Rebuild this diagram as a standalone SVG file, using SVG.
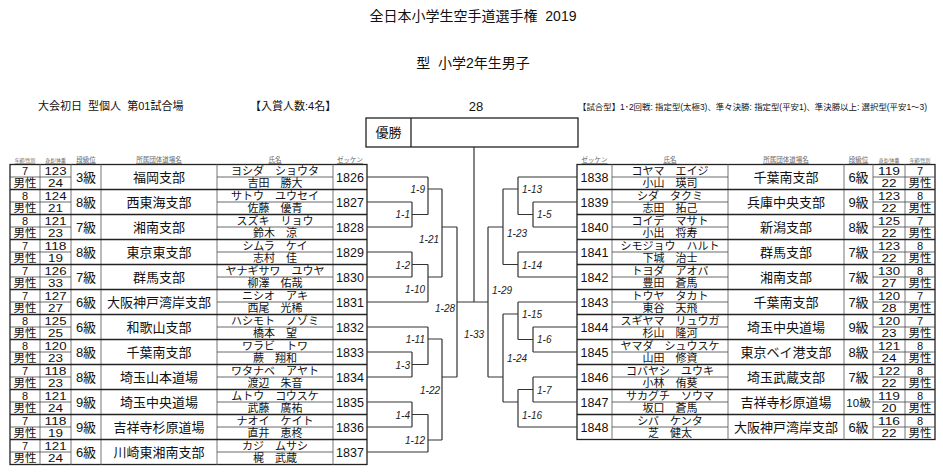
<svg xmlns="http://www.w3.org/2000/svg" width="943" height="472" viewBox="0 0 943 472">
<style>
text{font-family:"Liberation Sans","Noto Sans CJK JP",sans-serif;fill:#111}
.m{text-anchor:middle}
.a{font-size:11px}
.s{font-size:11.5px}
.h{font-size:11.5px}
.g{font-size:13px}
.d{font-size:13px}
.k{font-size:11px}
.z{font-size:12.5px}
.hd{font-size:6.5px;fill:#666;text-decoration:underline;text-anchor:middle}
.hs{font-size:4.8px;fill:#666;text-decoration:underline;text-anchor:middle}
.lb{font-size:10px;font-style:italic;fill:#222}
.e{text-anchor:end}
.br{fill:none;stroke:#333;stroke-width:1.2}
.bo{fill:none;stroke:#222;stroke-width:1.3}
.cl{fill:none;stroke:#777;stroke-width:1}
.sr{fill:none;stroke:#444;stroke-width:0.8}
</style>
<rect width="943" height="472" fill="#fff"/>
<g id="title">
<text class="m" x="473" y="21" font-size="14" xml:space="preserve">全日本小学生空手道選手権  2019</text>
<text class="m" x="473" y="68" font-size="14" xml:space="preserve">型  小学2年生男子</text>
<text x="38" y="110" font-size="11" xml:space="preserve">大会初日  型個人  第01試合場</text>
<text x="250" y="110" font-size="11">【入賞人数:4名】</text>
<text class="m" x="476" y="111" font-size="13">28</text>
<text x="578" y="109.5" font-size="8.5" textLength="349" lengthAdjust="spacingAndGlyphs">【試合型】1･2回戦: 指定型(太極3)、準々決勝: 指定型(平安1)、準決勝以上: 選択型(平安1～3)</text>
</g>
<g id="champion">
<rect x="366" y="118" width="212" height="29" class="bo"/>
<path d="M411,118V147" class="bo"/>
<text class="m" x="388.5" y="137" font-size="13">優勝</text>
</g>
<g id="headers">
<text class="hs" x="25" y="162">年齢/性別</text>
<text class="hs" x="55.5" y="162">身長/体重</text>
<text class="hd" x="86" y="162">段級位</text>
<text class="hd" x="159" y="162">所属団体道場名</text>
<text class="hd" x="275" y="162">氏名</text>
<text class="hd" x="350" y="162">ゼッケン</text>
<text class="hd" x="594.5" y="162">ゼッケン</text>
<text class="hd" x="670" y="162">氏名</text>
<text class="hd" x="786" y="162">所属団体道場名</text>
<text class="hd" x="858.5" y="162">段級位</text>
<text class="hs" x="889" y="162">身長/体重</text>
<text class="hs" x="920" y="162">年齢/性別</text>
</g>
<g id="grid-left">
<rect x="10" y="164.5" width="357" height="300" class="bo"/>
<path class="cl" d="M40,164.5V464.5M71,164.5V464.5M101,164.5V464.5M217,164.5V464.5M333,164.5V464.5"/>
<path class="bo" d="M10,189.5H367M10,214.5H367M10,239.5H367M10,264.5H367M10,289.5H367M10,314.5H367M10,339.5H367M10,364.5H367M10,389.5H367M10,414.5H367M10,439.5H367"/>
<path class="sr" d="M10,177H71M217,177H333M10,202H71M217,202H333M10,227H71M217,227H333M10,252H71M217,252H333M10,277H71M217,277H333M10,302H71M217,302H333M10,327H71M217,327H333M10,352H71M217,352H333M10,377H71M217,377H333M10,402H71M217,402H333M10,427H71M217,427H333M10,452H71M217,452H333"/>
</g>
<g id="grid-right">
<rect x="577" y="164.5" width="358" height="275" class="bo"/>
<path class="cl" d="M612,164.5V439.5M728,164.5V439.5M844,164.5V439.5M873,164.5V439.5M905,164.5V439.5"/>
<path class="bo" d="M577,189.5H935M577,214.5H935M577,239.5H935M577,264.5H935M577,289.5H935M577,314.5H935M577,339.5H935M577,364.5H935M577,389.5H935M577,414.5H935"/>
<path class="sr" d="M612,177H728M873,177H935M612,202H728M873,202H935M612,227H728M873,227H935M612,252H728M873,252H935M612,277H728M873,277H935M612,302H728M873,302H935M612,327H728M873,327H935M612,352H728M873,352H935M612,377H728M873,377H935M612,402H728M873,402H935M612,427H728M873,427H935"/>
</g>
<g id="p1826" transform="translate(0,164.5)"><text class="m a" x="25" y="10.3">7</text><text class="m s" x="25" y="22.9">男性</text><text class="m h" x="55.5" y="10.4" textLength="22" lengthAdjust="spacingAndGlyphs">123</text><text class="m h" x="55.5" y="22.9" textLength="15" lengthAdjust="spacingAndGlyphs">24</text><text class="m g" x="86" y="17.3">3級</text><text class="m d" x="159" y="17.3">福岡支部</text><text class="m k" x="275" y="10.3">ヨシダ　ショウタ</text><text class="m k" x="275" y="22.8">吉田　勝大</text><text class="m z" x="350" y="17">1826</text></g>
<g id="p1827" transform="translate(0,189.5)"><text class="m a" x="25" y="10.3">8</text><text class="m s" x="25" y="22.9">男性</text><text class="m h" x="55.5" y="10.4" textLength="22" lengthAdjust="spacingAndGlyphs">124</text><text class="m h" x="55.5" y="22.9" textLength="15" lengthAdjust="spacingAndGlyphs">21</text><text class="m g" x="86" y="17.3">8級</text><text class="m d" x="159" y="17.3">西東海支部</text><text class="m k" x="275" y="10.3">サトウ　ユウセイ</text><text class="m k" x="275" y="22.8">佐藤　優青</text><text class="m z" x="350" y="17">1827</text></g>
<g id="p1828" transform="translate(0,214.5)"><text class="m a" x="25" y="10.3">8</text><text class="m s" x="25" y="22.9">男性</text><text class="m h" x="55.5" y="10.4" textLength="22" lengthAdjust="spacingAndGlyphs">121</text><text class="m h" x="55.5" y="22.9" textLength="15" lengthAdjust="spacingAndGlyphs">23</text><text class="m g" x="86" y="17.3">7級</text><text class="m d" x="159" y="17.3">湘南支部</text><text class="m k" x="275" y="10.3">スズキ　リョウ</text><text class="m k" x="275" y="22.8">鈴木　涼</text><text class="m z" x="350" y="17">1828</text></g>
<g id="p1829" transform="translate(0,239.5)"><text class="m a" x="25" y="10.3">7</text><text class="m s" x="25" y="22.9">男性</text><text class="m h" x="55.5" y="10.4" textLength="22" lengthAdjust="spacingAndGlyphs">118</text><text class="m h" x="55.5" y="22.9" textLength="15" lengthAdjust="spacingAndGlyphs">19</text><text class="m g" x="86" y="17.3">8級</text><text class="m d" x="159" y="17.3">東京東支部</text><text class="m k" x="275" y="10.3">シムラ　ケイ</text><text class="m k" x="275" y="22.8">志村　佳</text><text class="m z" x="350" y="17">1829</text></g>
<g id="p1830" transform="translate(0,264.5)"><text class="m a" x="25" y="10.3">7</text><text class="m s" x="25" y="22.9">男性</text><text class="m h" x="55.5" y="10.4" textLength="22" lengthAdjust="spacingAndGlyphs">126</text><text class="m h" x="55.5" y="22.9" textLength="15" lengthAdjust="spacingAndGlyphs">33</text><text class="m g" x="86" y="17.3">7級</text><text class="m d" x="159" y="17.3">群馬支部</text><text class="m k" x="275" y="10.3">ヤナギサワ　ユウヤ</text><text class="m k" x="275" y="22.8">柳澤　佑哉</text><text class="m z" x="350" y="17">1830</text></g>
<g id="p1831" transform="translate(0,289.5)"><text class="m a" x="25" y="10.3">7</text><text class="m s" x="25" y="22.9">男性</text><text class="m h" x="55.5" y="10.4" textLength="22" lengthAdjust="spacingAndGlyphs">127</text><text class="m h" x="55.5" y="22.9" textLength="15" lengthAdjust="spacingAndGlyphs">27</text><text class="m g" x="86" y="17.3">6級</text><text class="m d" x="159" y="17.3">大阪神戸湾岸支部</text><text class="m k" x="275" y="10.3">ニシオ　アキ</text><text class="m k" x="275" y="22.8">西尾　光稀</text><text class="m z" x="350" y="17">1831</text></g>
<g id="p1832" transform="translate(0,314.5)"><text class="m a" x="25" y="10.3">8</text><text class="m s" x="25" y="22.9">男性</text><text class="m h" x="55.5" y="10.4" textLength="22" lengthAdjust="spacingAndGlyphs">125</text><text class="m h" x="55.5" y="22.9" textLength="15" lengthAdjust="spacingAndGlyphs">25</text><text class="m g" x="86" y="17.3">6級</text><text class="m d" x="159" y="17.3">和歌山支部</text><text class="m k" x="275" y="10.3">ハシモト　ノゾミ</text><text class="m k" x="275" y="22.8">橋本　望</text><text class="m z" x="350" y="17">1832</text></g>
<g id="p1833" transform="translate(0,339.5)"><text class="m a" x="25" y="10.3">8</text><text class="m s" x="25" y="22.9">男性</text><text class="m h" x="55.5" y="10.4" textLength="22" lengthAdjust="spacingAndGlyphs">120</text><text class="m h" x="55.5" y="22.9" textLength="15" lengthAdjust="spacingAndGlyphs">23</text><text class="m g" x="86" y="17.3">8級</text><text class="m d" x="159" y="17.3">千葉南支部</text><text class="m k" x="275" y="10.3">ワラビ　トワ</text><text class="m k" x="275" y="22.8">蕨　翔和</text><text class="m z" x="350" y="17">1833</text></g>
<g id="p1834" transform="translate(0,364.5)"><text class="m a" x="25" y="10.3">7</text><text class="m s" x="25" y="22.9">男性</text><text class="m h" x="55.5" y="10.4" textLength="22" lengthAdjust="spacingAndGlyphs">118</text><text class="m h" x="55.5" y="22.9" textLength="15" lengthAdjust="spacingAndGlyphs">23</text><text class="m g" x="86" y="17.3">8級</text><text class="m d" x="159" y="17.3">埼玉山本道場</text><text class="m k" x="275" y="10.3">ワタナベ　アヤト</text><text class="m k" x="275" y="22.8">渡辺　朱音</text><text class="m z" x="350" y="17">1834</text></g>
<g id="p1835" transform="translate(0,389.5)"><text class="m a" x="25" y="10.3">8</text><text class="m s" x="25" y="22.9">男性</text><text class="m h" x="55.5" y="10.4" textLength="22" lengthAdjust="spacingAndGlyphs">121</text><text class="m h" x="55.5" y="22.9" textLength="15" lengthAdjust="spacingAndGlyphs">24</text><text class="m g" x="86" y="17.3">9級</text><text class="m d" x="159" y="17.3">埼玉中央道場</text><text class="m k" x="275" y="10.3">ムトウ　コウスケ</text><text class="m k" x="275" y="22.8">武藤　廣祐</text><text class="m z" x="350" y="17">1835</text></g>
<g id="p1836" transform="translate(0,414.5)"><text class="m a" x="25" y="10.3">7</text><text class="m s" x="25" y="22.9">男性</text><text class="m h" x="55.5" y="10.4" textLength="22" lengthAdjust="spacingAndGlyphs">118</text><text class="m h" x="55.5" y="22.9" textLength="15" lengthAdjust="spacingAndGlyphs">19</text><text class="m g" x="86" y="17.3">9級</text><text class="m d" x="159" y="17.3">吉祥寺杉原道場</text><text class="m k" x="275" y="10.3">ナオイ　ケイト</text><text class="m k" x="275" y="22.8">直井　恵柊</text><text class="m z" x="350" y="17">1836</text></g>
<g id="p1837" transform="translate(0,439.5)"><text class="m a" x="25" y="10.3">7</text><text class="m s" x="25" y="22.9">男性</text><text class="m h" x="55.5" y="10.4" textLength="22" lengthAdjust="spacingAndGlyphs">121</text><text class="m h" x="55.5" y="22.9" textLength="15" lengthAdjust="spacingAndGlyphs">24</text><text class="m g" x="86" y="17.3">6級</text><text class="m d" x="159" y="17.3">川崎東湘南支部</text><text class="m k" x="275" y="10.3">カジ　ムサシ</text><text class="m k" x="275" y="22.8">梶　武蔵</text><text class="m z" x="350" y="17">1837</text></g>
<g id="p1838" transform="translate(0,164.5)"><text class="m z" x="594.5" y="17">1838</text><text class="m k" x="670" y="10.3">コヤマ　エイジ</text><text class="m k" x="670" y="22.8">小山　瑛司</text><text class="m d" x="786" y="17.3">千葉南支部</text><text class="m g" x="858.5" y="17.3">6級</text><text class="m h" x="889" y="10.4" textLength="22" lengthAdjust="spacingAndGlyphs">119</text><text class="m h" x="889" y="22.9" textLength="15" lengthAdjust="spacingAndGlyphs">22</text><text class="m a" x="920" y="10.3">7</text><text class="m s" x="920" y="22.9">男性</text></g>
<g id="p1839" transform="translate(0,189.5)"><text class="m z" x="594.5" y="17">1839</text><text class="m k" x="670" y="10.3">シダ　タクミ</text><text class="m k" x="670" y="22.8">志田　拓己</text><text class="m d" x="786" y="17.3">兵庫中央支部</text><text class="m g" x="858.5" y="17.3">9級</text><text class="m h" x="889" y="10.4" textLength="22" lengthAdjust="spacingAndGlyphs">123</text><text class="m h" x="889" y="22.9" textLength="15" lengthAdjust="spacingAndGlyphs">22</text><text class="m a" x="920" y="10.3">8</text><text class="m s" x="920" y="22.9">男性</text></g>
<g id="p1840" transform="translate(0,214.5)"><text class="m z" x="594.5" y="17">1840</text><text class="m k" x="670" y="10.3">コイデ　マサト</text><text class="m k" x="670" y="22.8">小出　将寿</text><text class="m d" x="786" y="17.3">新潟支部</text><text class="m g" x="858.5" y="17.3">8級</text><text class="m h" x="889" y="10.4" textLength="22" lengthAdjust="spacingAndGlyphs">125</text><text class="m h" x="889" y="22.9" textLength="15" lengthAdjust="spacingAndGlyphs">22</text><text class="m a" x="920" y="10.3">7</text><text class="m s" x="920" y="22.9">男性</text></g>
<g id="p1841" transform="translate(0,239.5)"><text class="m z" x="594.5" y="17">1841</text><text class="m k" x="670" y="10.3">シモジョウ　ハルト</text><text class="m k" x="670" y="22.8">下城　治士</text><text class="m d" x="786" y="17.3">群馬支部</text><text class="m g" x="858.5" y="17.3">7級</text><text class="m h" x="889" y="10.4" textLength="22" lengthAdjust="spacingAndGlyphs">123</text><text class="m h" x="889" y="22.9" textLength="15" lengthAdjust="spacingAndGlyphs">22</text><text class="m a" x="920" y="10.3">8</text><text class="m s" x="920" y="22.9">男性</text></g>
<g id="p1842" transform="translate(0,264.5)"><text class="m z" x="594.5" y="17">1842</text><text class="m k" x="670" y="10.3">トヨダ　アオバ</text><text class="m k" x="670" y="22.8">豊田　蒼馬</text><text class="m d" x="786" y="17.3">湘南支部</text><text class="m g" x="858.5" y="17.3">7級</text><text class="m h" x="889" y="10.4" textLength="22" lengthAdjust="spacingAndGlyphs">130</text><text class="m h" x="889" y="22.9" textLength="15" lengthAdjust="spacingAndGlyphs">27</text><text class="m a" x="920" y="10.3">8</text><text class="m s" x="920" y="22.9">男性</text></g>
<g id="p1843" transform="translate(0,289.5)"><text class="m z" x="594.5" y="17">1843</text><text class="m k" x="670" y="10.3">トウヤ　タカト</text><text class="m k" x="670" y="22.8">東谷　天飛</text><text class="m d" x="786" y="17.3">千葉南支部</text><text class="m g" x="858.5" y="17.3">7級</text><text class="m h" x="889" y="10.4" textLength="22" lengthAdjust="spacingAndGlyphs">120</text><text class="m h" x="889" y="22.9" textLength="15" lengthAdjust="spacingAndGlyphs">28</text><text class="m a" x="920" y="10.3">7</text><text class="m s" x="920" y="22.9">男性</text></g>
<g id="p1844" transform="translate(0,314.5)"><text class="m z" x="594.5" y="17">1844</text><text class="m k" x="670" y="10.3">スギヤマ　リュウガ</text><text class="m k" x="670" y="22.8">杉山　隆河</text><text class="m d" x="786" y="17.3">埼玉中央道場</text><text class="m g" x="858.5" y="17.3">9級</text><text class="m h" x="889" y="10.4" textLength="22" lengthAdjust="spacingAndGlyphs">120</text><text class="m h" x="889" y="22.9" textLength="15" lengthAdjust="spacingAndGlyphs">23</text><text class="m a" x="920" y="10.3">7</text><text class="m s" x="920" y="22.9">男性</text></g>
<g id="p1845" transform="translate(0,339.5)"><text class="m z" x="594.5" y="17">1845</text><text class="m k" x="670" y="10.3">ヤマダ　シュウスケ</text><text class="m k" x="670" y="22.8">山田　修資</text><text class="m d" x="786" y="17.3">東京ベイ港支部</text><text class="m g" x="858.5" y="17.3">8級</text><text class="m h" x="889" y="10.4" textLength="22" lengthAdjust="spacingAndGlyphs">121</text><text class="m h" x="889" y="22.9" textLength="15" lengthAdjust="spacingAndGlyphs">24</text><text class="m a" x="920" y="10.3">8</text><text class="m s" x="920" y="22.9">男性</text></g>
<g id="p1846" transform="translate(0,364.5)"><text class="m z" x="594.5" y="17">1846</text><text class="m k" x="670" y="10.3">コバヤシ　ユウキ</text><text class="m k" x="670" y="22.8">小林　侑葵</text><text class="m d" x="786" y="17.3">埼玉武蔵支部</text><text class="m g" x="858.5" y="17.3">7級</text><text class="m h" x="889" y="10.4" textLength="22" lengthAdjust="spacingAndGlyphs">122</text><text class="m h" x="889" y="22.9" textLength="15" lengthAdjust="spacingAndGlyphs">22</text><text class="m a" x="920" y="10.3">8</text><text class="m s" x="920" y="22.9">男性</text></g>
<g id="p1847" transform="translate(0,389.5)"><text class="m z" x="594.5" y="17">1847</text><text class="m k" x="670" y="10.3">サカグチ　ソウマ</text><text class="m k" x="670" y="22.8">坂口　蒼馬</text><text class="m d" x="786" y="17.3">吉祥寺杉原道場</text><text class="m" x="858.5" y="17.3" font-size="11.5">10級</text><text class="m h" x="889" y="10.4" textLength="22" lengthAdjust="spacingAndGlyphs">119</text><text class="m h" x="889" y="22.9" textLength="15" lengthAdjust="spacingAndGlyphs">20</text><text class="m a" x="920" y="10.3">8</text><text class="m s" x="920" y="22.9">男性</text></g>
<g id="p1848" transform="translate(0,414.5)"><text class="m z" x="594.5" y="17">1848</text><text class="m k" x="670" y="10.3">シバ　ケンタ</text><text class="m k" x="670" y="22.8">芝　健太</text><text class="m d" x="786" y="17.3">大阪神戸湾岸支部</text><text class="m g" x="858.5" y="17.3">6級</text><text class="m h" x="889" y="10.4" textLength="22" lengthAdjust="spacingAndGlyphs">116</text><text class="m h" x="889" y="22.9" textLength="15" lengthAdjust="spacingAndGlyphs">22</text><text class="m a" x="920" y="10.3">8</text><text class="m s" x="920" y="22.9">男性</text></g>
<g id="connectors">
<path class="br" d="M367,177H428M367,202H412M367,227H412M412,202V227M412,214.5H428M428,177V214.5M428,189H442M367,252H412M367,277H412M412,252V277M412,264.5H428M367,302H428M428,264.5V302M428,277H442M442,189V277M442,227H457M367,327H428M367,352H412M367,377H412M412,352V377M412,364.5H428M428,327V364.5M428,339H442M367,402H412M367,427H412M412,402V427M412,414.5H428M367,452H428M428,414.5V452M428,440H442M442,339V440M442,377H457M457,227V377M457,302H488M474,147V302"/>
<path class="br" d="M577,177H518M577,202H533M577,227H533M533,202V227M533,214.5H518M518,177V214.5M518,189H503M577,252H518M577,277H518M518,252V277M518,264.5H503M503,189V264.5M503,227H488M577,302H518M577,327H533M577,352H533M533,327V352M533,339.5H518M518,302V339.5M518,314H503M577,377H533M577,402H533M533,377V402M533,389.5H518M577,427H518M518,389.5V427M518,402H503M503,314V402M503,377H488M488,227V377"/>
<g id="match-labels">
<text class="lb e" x="425" y="192.5">1-9</text>
<text class="lb e" x="410" y="217.5">1-1</text>
<text class="lb e" x="439" y="242.5">1-21</text>
<text class="lb e" x="410" y="268.5">1-2</text>
<text class="lb e" x="425" y="292.5">1-10</text>
<text class="lb e" x="455" y="311.5">1-28</text>
<text class="lb e" x="425" y="342.5">1-11</text>
<text class="lb e" x="410" y="368.5">1-3</text>
<text class="lb e" x="440" y="393.5">1-22</text>
<text class="lb e" x="410" y="418.5">1-4</text>
<text class="lb e" x="425" y="443.5">1-12</text>
<text class="lb" x="464" y="337.5">1-33</text>
<text class="lb" x="522" y="192.5">1-13</text>
<text class="lb" x="537" y="217.5">1-5</text>
<text class="lb" x="507" y="236.5">1-23</text>
<text class="lb" x="522" y="268.5">1-14</text>
<text class="lb" x="492" y="293.5">1-29</text>
<text class="lb" x="522" y="317.5">1-15</text>
<text class="lb" x="537" y="342.5">1-6</text>
<text class="lb" x="507" y="361.5">1-24</text>
<text class="lb" x="537" y="393.5">1-7</text>
<text class="lb" x="522" y="418.5">1-16</text>
</g>
</g>
</svg>
